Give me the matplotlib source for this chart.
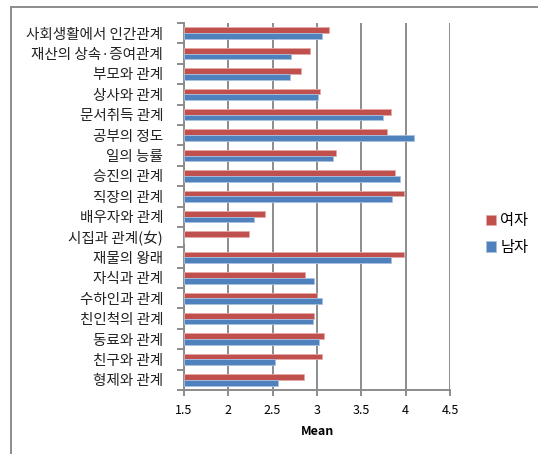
import matplotlib
matplotlib.use("Agg")
import matplotlib.pyplot as plt
import numpy as np
from matplotlib.lines import Line2D

plt.rcParams['font.family'] = ['Noto Sans CJK KR', 'DejaVu Sans']

categories = ['사회생활에서 인간관계', '재산의 상속·증여관계', '부모와 관계', '상사와 관계',
              '문서취득 관계', '공부의 정도', '일의 능률', '승진의 관계', '직장의 관계',
              '배우자와 관계', '시집과 관계(女)', '재물의 왕래', '자식과 관계',
              '수하인과 관계', '친인척의 관계', '동료와 관계', '친구와 관계', '형제와 관계']
female = [3.13, 2.92, 2.82, 3.03, 3.83, 3.79, 3.21, 3.88, 3.98,
          2.41, 2.23, 3.98, 2.87, 3.00, 2.97, 3.08, 3.06, 2.85]
male = [3.06, 2.71, 2.69, 3.01, 3.75, 4.09, 3.18, 3.94, 3.85,
        2.29, np.nan, 3.84, 2.97, 3.06, 2.95, 3.02, 2.53, 2.56]
xticks = [1.5, 2, 2.5, 3, 3.5, 4, 4.5]

red = '#C0504D'
blue = '#4F81BD'
grid = '#8C8C8C'
base = 1.5

fig = plt.figure(figsize=(5.38, 4.54), dpi=100)
ax = fig.add_axes([184/538, 1-390/454, 266/538, 367/454])

n = len(categories)
y = np.arange(n)
h = 0.28
fv = np.array(female) - base
mv = np.array(male) - base
ax.barh(y - h/2, fv, height=h, left=base, color=red, edgecolor='#E6A9A7', linewidth=0.6, label='여자', zorder=3)
ax.barh(y + h/2, np.nan_to_num(mv), height=h, left=base, color=blue, edgecolor='#A9C0E0', linewidth=0.6, label='남자', zorder=3)

ax.set_ylim(n - 0.5, -0.5)
ax.set_xlim(1.5, 4.5)
ax.set_xticks(xticks)
ax.set_xticklabels(['1.5', '2', '2.5', '3', '3.5', '4', '4.5'], fontsize=9)
ax.set_yticks(y)
ax.set_yticklabels(categories, fontsize=10.5, color='#222222')
ax.set_yticks(np.arange(-0.5, n, 1), minor=True)
ax.tick_params(axis='y', which='major', length=0, pad=15)
ax.tick_params(axis='y', which='minor', length=5, width=1.4, color=grid, direction='out')
ax.tick_params(axis='x', length=4, width=1.4, color=grid, direction='out', pad=6)

for s in ['top', 'right']:
    ax.spines[s].set_visible(False)
for s in ['left', 'bottom']:
    ax.spines[s].set_color(grid)
    ax.spines[s].set_linewidth(1.4)

ax.xaxis.grid(True, color=grid, linewidth=1.4, zorder=0)
ax.set_axisbelow(True)
ax.set_xlabel('Mean', fontsize=9, fontweight='bold', labelpad=6)

leg = fig.legend(loc='center left', bbox_to_anchor=(472/538, 1-234/454), frameon=False,
                 fontsize=11, handlelength=0.7, handleheight=0.7, handletextpad=0.25,
                 labelspacing=0.6)

# outer chart frame
fig.add_artist(Line2D([11/538, 11/538], [0, 1-7/454], transform=fig.transFigure, color=grid, linewidth=1.4))
fig.add_artist(Line2D([11/538, 1], [1-7/454, 1-7/454], transform=fig.transFigure, color=grid, linewidth=1.4))

fig.savefig('out.png', dpi=100)
